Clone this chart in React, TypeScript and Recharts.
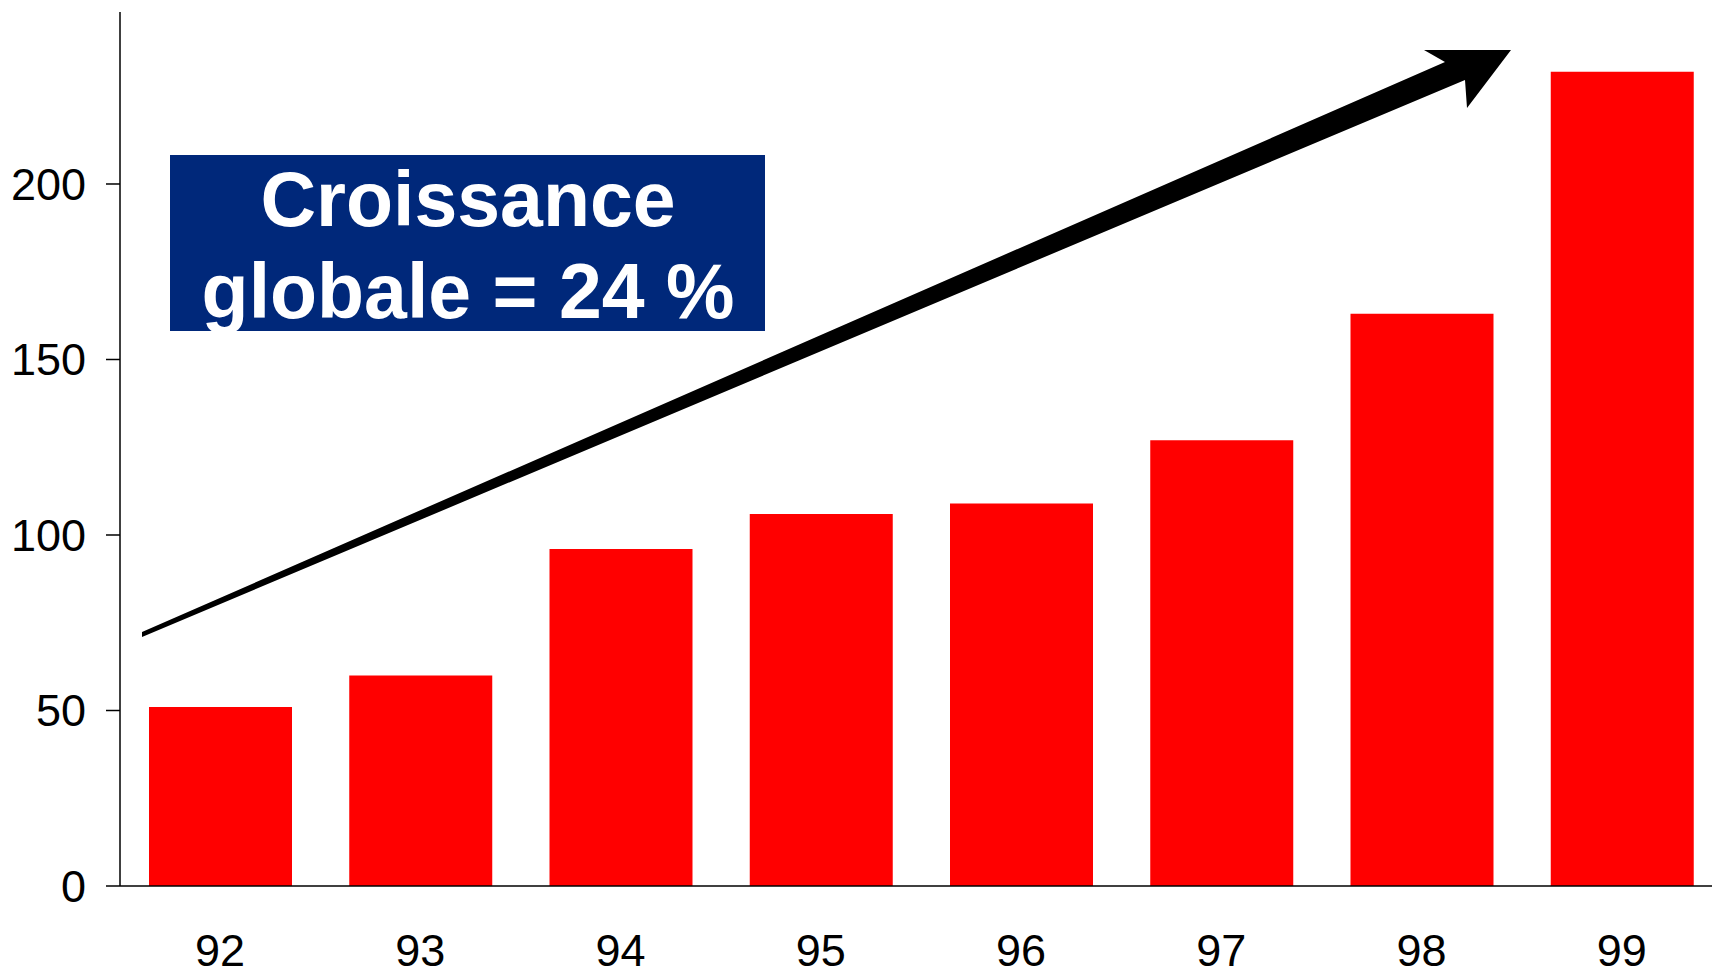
import { Bar, BarChart, XAxis, YAxis } from "recharts";

const years = ["92", "93", "94", "95", "96", "97", "98", "99"];
const revenue = [51, 60, 96, 106, 109, 127, 163, 232];
const yTicks = [0, 50, 100, 150, 200];
const headline = ["Croissance", "globale = 24 %"];

const data = years.map((year, i) => ({ year, value: revenue[i] }));

const FONT = '"Liberation Sans", Arial, sans-serif';

// tapered growth arrow, drawn over the plot
const arrowPoints = [
  [142, 632],
  [1445, 62],
  [1424, 50],
  [1511, 50],
  [1467, 108],
  [1465, 80],
  [142, 637]
]
  .map((p) => p.join(","))
  .join(" ");

function Overlay() {
  return (
    <svg
      width={1712}
      height={972}
      style={{ position: "absolute", left: 0, top: 0, pointerEvents: "none" }}
    >
      <polygon points={arrowPoints} fill="#000" />
      <rect x={170} y={155} width={595} height={176} fill="#00287a" />
      <text
        x={468}
        y={226}
        textAnchor="middle"
        fill="#fff"
        fontFamily={FONT}
        fontWeight="bold"
        fontSize={77}
      >
        {headline[0]}
      </text>
      <text
        x={468}
        y={318}
        textAnchor="middle"
        fill="#fff"
        fontFamily={FONT}
        fontWeight="bold"
        fontSize={77}
      >
        {headline[1]}
      </text>
    </svg>
  );
}

export default function App() {
  return (
    <div
      style={{
        position: "absolute",
        left: 0,
        top: 0,
        width: 1712,
        height: 972,
        overflow: "hidden",
        background: "#fff"
      }}
    >
      <BarChart
        width={1732}
        height={972}
        data={data}
        margin={{ top: 12, right: 10, bottom: 0, left: 0 }}
      >
        <XAxis
          dataKey="year"
          interval={0}
          height={86}
          tickLine={false}
          tickSize={0}
          tickMargin={48}
          axisLine={{ stroke: "#000", strokeWidth: 1.5 }}
          tick={{ fill: "#000", fontSize: 45, fontFamily: FONT }}
        />
        <YAxis
          width={120}
          domain={[0, 249]}
          ticks={yTicks}
          interval={0}
          tickSize={14}
          tickMargin={20}
          axisLine={{ stroke: "#000", strokeWidth: 1.5 }}
          tickLine={{ stroke: "#000", strokeWidth: 1.5 }}
          tick={{ fill: "#000", fontSize: 45, fontFamily: FONT }}
        />
        <Bar dataKey="value" fill="#ff0000" barSize={143} isAnimationActive={false} />
      </BarChart>
      <Overlay />
    </div>
  );
}
